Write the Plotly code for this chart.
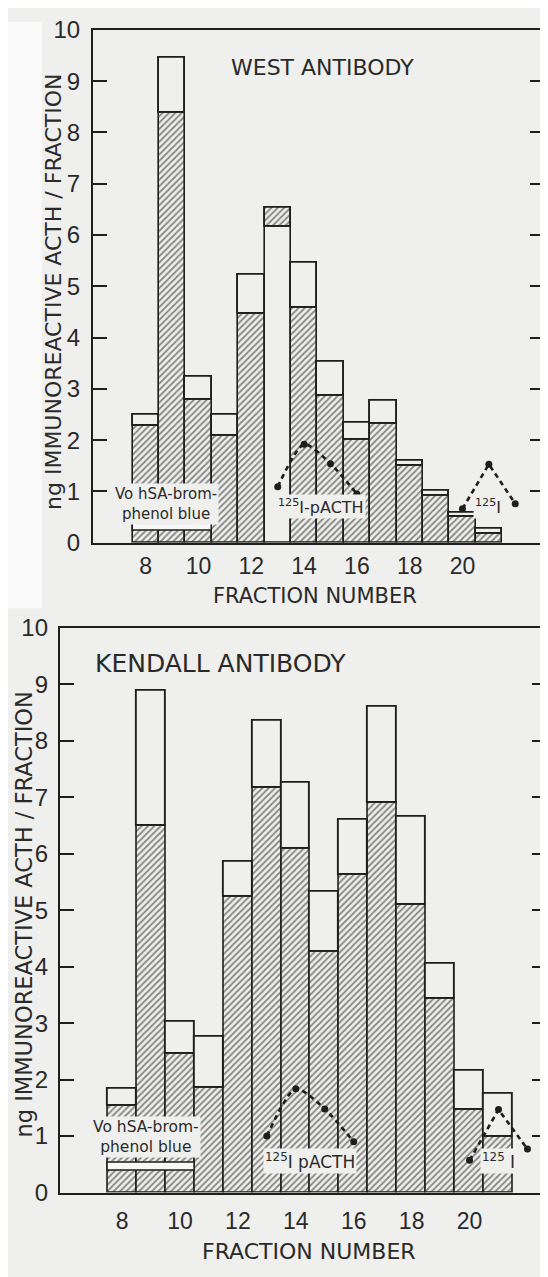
import plotly.graph_objects as go

# ---------------- data ----------------
fractions = list(range(8, 22))

# WEST antibody: total bar height and height of the split between the two segments
west_total = [2.49, 9.46, 3.24, 2.49, 5.22, 6.52, 5.46, 3.52, 2.34, 2.77, 1.60, 1.01, 0.58, 0.27]
west_split = [2.28, 8.38, 2.79, 2.08, 4.47, 6.15, 4.58, 2.87, 2.00, 2.31, 1.49, 0.92, 0.50, 0.18]
# 1 = lower segment hatched (upper open); 0 = lower open (upper hatched)
west_lower_hatched = [1, 1, 1, 1, 1, 0, 1, 1, 1, 1, 1, 1, 1, 1]

# KENDALL antibody
kendall_total = [1.84, 8.89, 3.03, 2.75, 5.86, 8.35, 7.26, 5.32, 6.60, 8.60, 6.65, 4.05, 2.16, 1.74]
kendall_split = [1.53, 6.49, 2.45, 1.86, 5.23, 7.16, 6.09, 4.27, 5.63, 6.91, 5.09, 3.43, 1.46, 0.99]
kendall_lower_hatched = [1] * 14

# 125I-pACTH and 125I elution profiles (dashed curves)
pacth_fractions = [13, 14, 15, 16]
west_pacth = [1.09, 1.92, 1.54, 0.95]
kendall_pacth = [1.00, 1.84, 1.48, 0.90]
iodide_fractions = [20, 21, 22]
west_iodide = [0.66, 1.53, 0.76]
kendall_iodide = [0.57, 1.47, 0.77]

# Vo hSA-bromphenol blue marker bar
vo_range = [7.5, 10.5]
west_vo = [0.23, 0.39]
kendall_vo = [0.38, 0.52]

x_ticks = [8, 10, 12, 14, 16, 18, 20]
y_ticks = list(range(0, 11))

# ---------------- style ----------------
OFF = 8              # default body margin of the written page
W, H = 540, 1269
BG = "#efefed"
INK = "#1e1e1e"
FONT = "DejaVu Sans"


def px_x(p):
    return (p - OFF) / W


def px_y(p):
    return 1 - (p - OFF) / H


fig = go.Figure()


def add_panel(xa, ya, total, split, lower_hatched, vo, pacth, iodide):
    upper = [t - s for t, s in zip(total, split)]
    lower_shape = ["/" if h else "" for h in lower_hatched]
    upper_shape = ["" if h else "/" for h in lower_hatched]
    common = dict(width=1, xaxis=xa, yaxis=ya, hoverinfo="skip", showlegend=False)
    fig.add_trace(go.Bar(
        x=fractions, y=split, base=[0] * len(split),
        marker=dict(color=BG, line=dict(color=INK, width=1.6),
                    pattern=dict(shape=lower_shape, fgcolor=INK, bgcolor=BG,
                                 size=4.5, solidity=0.4)),
        **common))
    fig.add_trace(go.Bar(
        x=fractions, y=upper, base=split,
        marker=dict(color=BG, line=dict(color=INK, width=1.9),
                    pattern=dict(shape=upper_shape, fgcolor=INK, bgcolor=BG,
                                 size=4.5, solidity=0.4)),
        **common))
    # Vo marker bar
    fig.add_trace(go.Bar(
        x=[(vo_range[0] + vo_range[1]) / 2], y=[vo[1] - vo[0]], base=[vo[0]],
        width=[vo_range[1] - vo_range[0]],
        marker=dict(color="#f8f8f6", line=dict(color=INK, width=1.5)),
        xaxis=xa, yaxis=ya, hoverinfo="skip", showlegend=False))
    fig.add_trace(go.Scatter(
        x=pacth_fractions, y=pacth, mode="lines+markers",
        line=dict(color=INK, width=2.6, dash="5px,4px", shape="spline", smoothing=0.7),
        marker=dict(color=INK, size=7),
        xaxis=xa, yaxis=ya, hoverinfo="skip", showlegend=False))
    fig.add_trace(go.Scatter(
        x=iodide_fractions, y=iodide, mode="lines+markers",
        line=dict(color=INK, width=2.6, dash="5px,4px"),
        marker=dict(color=INK, size=7),
        xaxis=xa, yaxis=ya, hoverinfo="skip", showlegend=False))


add_panel("x", "y", west_total, west_split, west_lower_hatched, west_vo,
          west_pacth, west_iodide)
add_panel("x2", "y2", kendall_total, kendall_split, kendall_lower_hatched, kendall_vo,
          kendall_pacth, kendall_iodide)

xcommon = dict(showline=True, linecolor=INK, linewidth=2, mirror=True, ticks="",
               tickvals=x_ticks, showgrid=False, zeroline=False,
               tickfont=dict(family="Liberation Sans", size=23, color="#2a2a2a"))
ycommon = dict(showline=True, linecolor=INK, linewidth=2, mirror="ticks",
               ticks="inside", ticklen=14, tickwidth=1.6, tickcolor=INK,
               tickvals=y_ticks, range=[0, 10], showgrid=False, zeroline=False,
               tickfont=dict(family="Liberation Sans", size=24, color="#2a2a2a"))

fig.update_layout(
    width=W, height=H, autosize=False,
    margin=dict(l=0, r=0, t=0, b=0),
    paper_bgcolor=BG, plot_bgcolor=BG,
    barmode="overlay", bargap=0,
    font=dict(family=FONT, color="#2a2a2a"),
    xaxis=dict(domain=[px_x(93.3), px_x(546)], range=[6, 23.09], anchor="y",
               ticklabelstandoff=2, **xcommon),
    yaxis=dict(domain=[px_y(540), px_y(16)], anchor="x", ticklabelstandoff=6, **ycommon),
    xaxis2=dict(domain=[px_x(60), 1.0], range=[5.85, 22.64], anchor="y2",
                ticklabelstandoff=7, **xcommon),
    yaxis2=dict(domain=[px_y(1204), px_y(627)], anchor="x2", ticklabelstandoff=5, **ycommon),
)

ann = []
# axis titles
ann.append(dict(text="ng IMMUNOREACTIVE ACTH / FRACTION", textangle=-90,
                xref="paper", yref="paper", x=px_x(53), y=px_y(283),
                xanchor="center", yanchor="middle", showarrow=False,
                font=dict(size=22)))
ann.append(dict(text="ng IMMUNOREACTIVE ACTH / FRACTION", textangle=-90,
                xref="paper", yref="paper", x=px_x(24), y=px_y(920),
                xanchor="center", yanchor="middle", showarrow=False,
                font=dict(size=22.5)))
ann.append(dict(text="FRACTION NUMBER", xref="paper", yref="paper",
                x=px_x(316), y=px_y(594), xanchor="center", yanchor="middle",
                showarrow=False, font=dict(size=21)))
ann.append(dict(text="FRACTION NUMBER", xref="paper", yref="paper",
                x=px_x(310), y=px_y(1264), xanchor="center", yanchor="middle",
                showarrow=False, font=dict(size=22)))
# panel titles
ann.append(dict(text="WEST ANTIBODY", xref="x", yref="y", x=14.69, y=9.27,
                xanchor="center", yanchor="middle", showarrow=False, font=dict(size=22)))
ann.append(dict(text="KENDALL ANTIBODY", xref="x2", yref="y2", x=7.0, y=9.36,
                xanchor="left", yanchor="middle", showarrow=False, font=dict(size=25)))
# in-plot labels
lab = dict(showarrow=False, bgcolor=BG, borderpad=1, xanchor="center", yanchor="middle")
ann.append(dict(text="Vo hSA-brom-<br>phenol blue", xref="x", yref="y", x=8.76, y=0.76,
                font=dict(size=15), **lab))
ann.append(dict(text="<sup>125</sup>I-pACTH", xref="x", yref="y", x=14.65, y=0.70,
                font=dict(size=16), **lab))
ann.append(dict(text="<sup>125</sup>I", xref="x", yref="y", x=20.95, y=0.70,
                font=dict(size=16), **lab))
ann.append(dict(text="Vo hSA-brom-<br>phenol blue", xref="x2", yref="y2", x=8.84, y=0.98,
                font=dict(size=15.5), **lab))
ann.append(dict(text="<sup>125</sup>I pACTH", xref="x2", yref="y2", x=14.48, y=0.56,
                font=dict(size=17), **lab))
ann.append(dict(text="<sup>125</sup> I", xref="x2", yref="y2", x=21.0, y=0.56,
                font=dict(size=17), **lab))
fig.update_layout(annotations=ann)

# whiter scan margin at the top-left
fig.update_layout(shapes=[
    dict(type="rect", xref="paper", yref="paper", x0=0, x1=px_x(42), y0=px_y(607), y1=1,
         fillcolor="#fafafa", line=dict(width=0), layer="below"),
])

fig.write_html("out.html")
